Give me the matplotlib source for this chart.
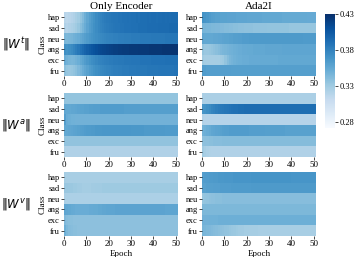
import matplotlib
matplotlib.use("Agg")
import matplotlib.pyplot as plt
import numpy as np

plt.rcParams['font.family'] = ['Liberation Serif', 'DejaVu Serif']
plt.rcParams['mathtext.fontset'] = 'dejavusans'

classes = ['hap', 'sad', 'neu', 'ang', 'exc', 'fru']
epochs = list(range(51))
col_titles = ['Only Encoder', 'Ada2I']
row_labels = [r'$\|W^t\|$', r'$\|W^a\|$', r'$\|W^v\|$']
cbar_ticks = [0.28, 0.33, 0.38, 0.43]

# ||W^t||, Only Encoder
oe_t = [
    [0.318,0.316,0.318,0.320,0.322,0.326,0.330,0.336,0.342,0.350,0.356,0.362,0.366,0.370,0.374,0.377,0.380,0.382,0.384,0.385,0.386,0.387,0.388,0.388,0.389,0.389,0.390,0.390,0.391,0.390,0.391,0.391,0.392,0.391,0.392,0.392,0.392,0.393,0.392,0.393,0.393,0.392,0.393,0.393,0.394,0.393,0.394,0.393,0.394,0.394,0.394],
    [0.322,0.320,0.322,0.324,0.326,0.330,0.334,0.340,0.346,0.352,0.358,0.363,0.367,0.371,0.374,0.377,0.379,0.381,0.383,0.384,0.385,0.386,0.387,0.388,0.388,0.389,0.389,0.390,0.390,0.390,0.391,0.391,0.391,0.392,0.392,0.392,0.392,0.393,0.393,0.393,0.393,0.393,0.394,0.394,0.394,0.394,0.394,0.395,0.395,0.395,0.395],
    [0.345,0.344,0.345,0.346,0.348,0.350,0.352,0.355,0.358,0.361,0.364,0.367,0.369,0.371,0.373,0.375,0.376,0.377,0.378,0.379,0.380,0.380,0.381,0.381,0.382,0.382,0.382,0.383,0.383,0.383,0.384,0.384,0.384,0.384,0.385,0.385,0.385,0.385,0.385,0.386,0.386,0.386,0.386,0.386,0.386,0.387,0.387,0.387,0.387,0.387,0.387],
    [0.372,0.370,0.372,0.375,0.378,0.382,0.386,0.390,0.394,0.398,0.401,0.404,0.407,0.409,0.411,0.413,0.415,0.416,0.417,0.418,0.419,0.420,0.421,0.421,0.422,0.422,0.423,0.423,0.423,0.424,0.424,0.424,0.424,0.425,0.425,0.425,0.425,0.425,0.426,0.426,0.426,0.426,0.426,0.426,0.427,0.427,0.427,0.427,0.427,0.427,0.427],
    [0.352,0.348,0.346,0.345,0.346,0.348,0.351,0.355,0.359,0.363,0.367,0.370,0.373,0.375,0.377,0.379,0.380,0.381,0.382,0.383,0.384,0.384,0.385,0.385,0.386,0.386,0.386,0.387,0.387,0.387,0.388,0.388,0.388,0.388,0.389,0.389,0.389,0.389,0.389,0.390,0.390,0.390,0.390,0.390,0.390,0.391,0.391,0.391,0.391,0.391,0.391],
    [0.338,0.334,0.333,0.334,0.336,0.339,0.343,0.347,0.352,0.356,0.360,0.364,0.367,0.370,0.372,0.374,0.376,0.377,0.378,0.379,0.380,0.381,0.382,0.382,0.383,0.383,0.384,0.384,0.384,0.385,0.385,0.385,0.386,0.386,0.386,0.386,0.386,0.387,0.387,0.387,0.387,0.387,0.388,0.388,0.388,0.388,0.388,0.388,0.388,0.389,0.389],
]

# ||W^t||, Ada2I
ada_t = [
    [0.370,0.368,0.366,0.364,0.362,0.361,0.360,0.360,0.359,0.359,0.359,0.358,0.358,0.358,0.358,0.357,0.357,0.357,0.357,0.357,0.356,0.356,0.356,0.356,0.356,0.356,0.356,0.355,0.355,0.355,0.355,0.355,0.355,0.355,0.355,0.355,0.354,0.354,0.354,0.354,0.354,0.354,0.354,0.354,0.354,0.354,0.354,0.353,0.353,0.353,0.353],
    [0.346,0.346,0.345,0.345,0.344,0.344,0.343,0.343,0.342,0.342,0.341,0.341,0.340,0.340,0.339,0.339,0.338,0.338,0.338,0.337,0.337,0.337,0.337,0.336,0.336,0.336,0.336,0.336,0.336,0.335,0.335,0.335,0.335,0.335,0.335,0.335,0.335,0.335,0.335,0.334,0.334,0.334,0.334,0.334,0.334,0.334,0.334,0.334,0.334,0.334,0.334],
    [0.356,0.355,0.355,0.355,0.355,0.356,0.356,0.357,0.357,0.358,0.359,0.359,0.360,0.360,0.361,0.361,0.362,0.362,0.363,0.363,0.363,0.364,0.364,0.364,0.364,0.364,0.365,0.365,0.365,0.365,0.365,0.365,0.365,0.365,0.365,0.365,0.365,0.365,0.365,0.365,0.365,0.365,0.365,0.365,0.365,0.364,0.364,0.364,0.364,0.364,0.364],
    [0.335,0.333,0.333,0.334,0.335,0.337,0.339,0.341,0.343,0.345,0.346,0.347,0.348,0.349,0.350,0.351,0.352,0.352,0.353,0.353,0.354,0.354,0.354,0.355,0.355,0.355,0.355,0.355,0.356,0.356,0.356,0.356,0.356,0.356,0.356,0.356,0.357,0.357,0.357,0.357,0.357,0.357,0.357,0.357,0.357,0.357,0.357,0.357,0.357,0.357,0.357],
    [0.330,0.328,0.327,0.327,0.327,0.327,0.328,0.328,0.329,0.331,0.336,0.341,0.345,0.347,0.349,0.350,0.351,0.351,0.352,0.352,0.352,0.353,0.353,0.353,0.353,0.353,0.354,0.354,0.354,0.354,0.354,0.354,0.354,0.354,0.355,0.355,0.355,0.355,0.355,0.355,0.355,0.355,0.355,0.355,0.355,0.355,0.355,0.355,0.355,0.355,0.355],
    [0.363,0.363,0.362,0.362,0.362,0.362,0.362,0.362,0.362,0.362,0.362,0.362,0.362,0.361,0.361,0.361,0.361,0.361,0.361,0.361,0.361,0.361,0.361,0.361,0.361,0.361,0.361,0.361,0.361,0.361,0.361,0.361,0.361,0.361,0.361,0.361,0.361,0.361,0.361,0.361,0.361,0.361,0.361,0.361,0.361,0.361,0.361,0.361,0.361,0.361,0.361],
]

# ||W^a||, Only Encoder
oe_a = [
    [0.336,0.335,0.335,0.335,0.335,0.335,0.335,0.335,0.335,0.335,0.335,0.335,0.335,0.335,0.335,0.335,0.335,0.335,0.335,0.335,0.335,0.335,0.335,0.335,0.335,0.335,0.335,0.335,0.335,0.335,0.335,0.335,0.335,0.335,0.335,0.335,0.335,0.335,0.335,0.335,0.335,0.335,0.335,0.335,0.335,0.335,0.335,0.335,0.335,0.335,0.335],
    [0.356,0.355,0.355,0.356,0.356,0.357,0.358,0.359,0.359,0.360,0.360,0.361,0.361,0.362,0.362,0.362,0.363,0.363,0.363,0.363,0.363,0.363,0.363,0.363,0.363,0.363,0.363,0.362,0.362,0.362,0.362,0.362,0.362,0.362,0.361,0.361,0.361,0.361,0.361,0.361,0.361,0.361,0.361,0.361,0.361,0.361,0.361,0.361,0.361,0.361,0.361],
    [0.362,0.352,0.350,0.349,0.349,0.348,0.348,0.348,0.348,0.348,0.348,0.348,0.348,0.348,0.348,0.348,0.348,0.348,0.348,0.348,0.348,0.348,0.348,0.348,0.348,0.348,0.348,0.348,0.348,0.348,0.348,0.348,0.348,0.348,0.348,0.348,0.348,0.348,0.348,0.348,0.348,0.348,0.348,0.348,0.348,0.348,0.348,0.348,0.348,0.348,0.348],
    [0.355,0.355,0.356,0.357,0.358,0.359,0.360,0.361,0.362,0.363,0.364,0.364,0.365,0.365,0.366,0.366,0.366,0.367,0.367,0.367,0.367,0.367,0.367,0.367,0.367,0.367,0.367,0.367,0.367,0.367,0.366,0.366,0.366,0.366,0.366,0.366,0.365,0.365,0.365,0.365,0.365,0.365,0.365,0.365,0.365,0.364,0.364,0.364,0.364,0.364,0.364],
    [0.336,0.336,0.336,0.336,0.336,0.336,0.336,0.336,0.336,0.336,0.336,0.336,0.336,0.336,0.336,0.336,0.336,0.336,0.336,0.336,0.336,0.336,0.336,0.336,0.336,0.336,0.336,0.336,0.336,0.336,0.336,0.336,0.336,0.336,0.336,0.336,0.336,0.336,0.336,0.336,0.336,0.336,0.336,0.336,0.336,0.336,0.336,0.336,0.336,0.336,0.336],
    [0.323,0.322,0.322,0.322,0.322,0.322,0.322,0.322,0.322,0.322,0.322,0.322,0.322,0.322,0.322,0.322,0.322,0.322,0.322,0.322,0.322,0.322,0.322,0.322,0.322,0.322,0.322,0.322,0.322,0.322,0.322,0.322,0.322,0.322,0.322,0.322,0.322,0.322,0.322,0.322,0.322,0.322,0.322,0.322,0.322,0.322,0.322,0.322,0.322,0.322,0.322],
]

# ||W^a||, Ada2I
ada_a = [
    [0.325,0.325,0.325,0.325,0.325,0.325,0.325,0.325,0.325,0.325,0.325,0.325,0.325,0.325,0.325,0.325,0.325,0.325,0.325,0.325,0.325,0.325,0.325,0.325,0.325,0.325,0.325,0.325,0.325,0.325,0.325,0.325,0.325,0.325,0.325,0.325,0.325,0.325,0.325,0.325,0.325,0.325,0.325,0.325,0.325,0.325,0.325,0.325,0.325,0.325,0.325],
    [0.368,0.370,0.372,0.375,0.378,0.380,0.382,0.384,0.385,0.386,0.387,0.388,0.389,0.390,0.391,0.391,0.392,0.392,0.392,0.393,0.393,0.393,0.393,0.393,0.393,0.393,0.393,0.393,0.393,0.393,0.393,0.393,0.393,0.393,0.393,0.392,0.392,0.392,0.392,0.392,0.392,0.392,0.392,0.392,0.392,0.392,0.392,0.392,0.392,0.392,0.392],
    [0.321,0.320,0.320,0.320,0.320,0.320,0.320,0.320,0.320,0.320,0.320,0.320,0.320,0.320,0.320,0.320,0.320,0.320,0.320,0.320,0.320,0.320,0.320,0.320,0.320,0.320,0.320,0.320,0.320,0.320,0.320,0.320,0.320,0.320,0.320,0.320,0.320,0.320,0.320,0.320,0.320,0.320,0.320,0.320,0.320,0.320,0.320,0.320,0.320,0.320,0.320],
    [0.348,0.350,0.352,0.354,0.356,0.357,0.358,0.359,0.360,0.361,0.362,0.362,0.363,0.363,0.363,0.363,0.363,0.363,0.363,0.363,0.363,0.362,0.362,0.362,0.362,0.362,0.362,0.362,0.361,0.361,0.361,0.361,0.361,0.361,0.361,0.361,0.361,0.360,0.360,0.360,0.360,0.360,0.360,0.360,0.360,0.360,0.360,0.360,0.360,0.360,0.360],
    [0.337,0.338,0.338,0.339,0.339,0.340,0.340,0.340,0.340,0.341,0.341,0.341,0.341,0.341,0.341,0.341,0.341,0.341,0.341,0.341,0.341,0.341,0.341,0.341,0.341,0.341,0.341,0.341,0.341,0.341,0.341,0.341,0.341,0.341,0.341,0.341,0.341,0.341,0.341,0.341,0.341,0.341,0.341,0.341,0.341,0.341,0.341,0.341,0.341,0.341,0.341],
    [0.330,0.326,0.324,0.323,0.322,0.322,0.322,0.322,0.322,0.322,0.322,0.322,0.322,0.322,0.322,0.322,0.322,0.322,0.322,0.322,0.322,0.322,0.322,0.322,0.322,0.322,0.322,0.322,0.322,0.322,0.322,0.322,0.322,0.322,0.322,0.322,0.322,0.322,0.322,0.322,0.322,0.322,0.322,0.322,0.322,0.322,0.322,0.322,0.322,0.322,0.322],
]

# ||W^v||, Only Encoder
oe_v = [
    [0.327,0.326,0.326,0.326,0.326,0.326,0.326,0.326,0.326,0.326,0.326,0.326,0.326,0.326,0.326,0.326,0.326,0.326,0.326,0.326,0.326,0.326,0.326,0.326,0.326,0.326,0.326,0.326,0.326,0.326,0.326,0.326,0.326,0.326,0.326,0.326,0.326,0.326,0.326,0.326,0.326,0.326,0.326,0.326,0.326,0.326,0.326,0.326,0.326,0.326,0.326],
    [0.333,0.333,0.332,0.332,0.331,0.331,0.330,0.329,0.328,0.328,0.328,0.328,0.329,0.329,0.330,0.330,0.330,0.331,0.331,0.331,0.331,0.331,0.331,0.331,0.331,0.331,0.331,0.331,0.331,0.331,0.331,0.331,0.331,0.331,0.331,0.331,0.331,0.331,0.331,0.331,0.331,0.331,0.331,0.331,0.331,0.331,0.331,0.331,0.331,0.331,0.331],
    [0.325,0.324,0.324,0.324,0.324,0.324,0.324,0.324,0.324,0.324,0.324,0.324,0.324,0.324,0.324,0.324,0.324,0.324,0.324,0.324,0.324,0.324,0.324,0.324,0.324,0.324,0.324,0.324,0.324,0.324,0.324,0.324,0.324,0.324,0.324,0.324,0.324,0.324,0.324,0.324,0.324,0.324,0.324,0.324,0.324,0.324,0.324,0.324,0.324,0.324,0.324],
    [0.357,0.356,0.355,0.354,0.353,0.352,0.352,0.352,0.352,0.352,0.352,0.353,0.353,0.354,0.354,0.355,0.355,0.356,0.356,0.357,0.357,0.357,0.357,0.358,0.358,0.358,0.358,0.358,0.358,0.358,0.358,0.358,0.358,0.358,0.358,0.358,0.358,0.358,0.358,0.358,0.358,0.358,0.358,0.358,0.358,0.357,0.357,0.357,0.357,0.357,0.357],
    [0.343,0.340,0.339,0.339,0.338,0.338,0.338,0.338,0.338,0.338,0.338,0.338,0.338,0.338,0.338,0.338,0.338,0.338,0.338,0.338,0.338,0.338,0.338,0.338,0.338,0.338,0.338,0.338,0.338,0.338,0.338,0.338,0.338,0.338,0.338,0.338,0.338,0.338,0.338,0.338,0.338,0.338,0.338,0.338,0.338,0.338,0.338,0.338,0.338,0.338,0.338],
    [0.350,0.344,0.341,0.340,0.339,0.339,0.338,0.338,0.338,0.338,0.338,0.338,0.338,0.338,0.338,0.338,0.338,0.338,0.338,0.338,0.338,0.338,0.338,0.338,0.338,0.338,0.338,0.338,0.338,0.338,0.338,0.338,0.338,0.338,0.338,0.338,0.338,0.338,0.338,0.338,0.338,0.338,0.338,0.338,0.338,0.338,0.338,0.338,0.338,0.338,0.338],
]

# ||W^v||, Ada2I
ada_v = [
    [0.362,0.363,0.363,0.364,0.364,0.365,0.365,0.366,0.366,0.366,0.367,0.367,0.367,0.367,0.368,0.368,0.368,0.368,0.368,0.368,0.368,0.368,0.369,0.369,0.369,0.369,0.369,0.369,0.369,0.369,0.369,0.369,0.369,0.369,0.369,0.369,0.369,0.369,0.369,0.369,0.368,0.368,0.368,0.368,0.368,0.368,0.368,0.368,0.368,0.368,0.368],
    [0.360,0.360,0.361,0.361,0.361,0.362,0.362,0.362,0.363,0.363,0.363,0.363,0.363,0.364,0.364,0.364,0.364,0.364,0.364,0.364,0.364,0.364,0.365,0.365,0.365,0.365,0.365,0.365,0.365,0.365,0.365,0.365,0.365,0.365,0.365,0.365,0.365,0.365,0.365,0.365,0.365,0.365,0.365,0.365,0.365,0.365,0.365,0.365,0.365,0.365,0.365],
    [0.334,0.335,0.336,0.337,0.338,0.338,0.339,0.339,0.339,0.340,0.340,0.340,0.340,0.340,0.340,0.340,0.340,0.340,0.340,0.340,0.340,0.340,0.340,0.340,0.340,0.340,0.340,0.340,0.340,0.340,0.340,0.340,0.340,0.340,0.340,0.340,0.340,0.340,0.340,0.340,0.340,0.340,0.340,0.340,0.340,0.340,0.340,0.340,0.340,0.340,0.340],
    [0.344,0.344,0.344,0.344,0.344,0.344,0.344,0.344,0.344,0.344,0.344,0.344,0.344,0.344,0.344,0.344,0.344,0.344,0.344,0.344,0.344,0.344,0.344,0.344,0.344,0.344,0.344,0.344,0.344,0.344,0.344,0.344,0.344,0.344,0.344,0.344,0.344,0.344,0.344,0.344,0.344,0.344,0.344,0.344,0.344,0.344,0.344,0.344,0.344,0.344,0.344],
    [0.348,0.348,0.348,0.349,0.349,0.349,0.349,0.350,0.350,0.350,0.350,0.350,0.350,0.350,0.350,0.350,0.350,0.350,0.350,0.350,0.350,0.350,0.350,0.350,0.350,0.350,0.350,0.350,0.350,0.350,0.350,0.350,0.350,0.350,0.350,0.350,0.350,0.350,0.350,0.350,0.350,0.350,0.350,0.350,0.350,0.350,0.350,0.350,0.350,0.350,0.350],
    [0.346,0.345,0.344,0.343,0.342,0.341,0.340,0.339,0.338,0.337,0.336,0.335,0.334,0.333,0.332,0.331,0.330,0.329,0.329,0.328,0.328,0.327,0.327,0.327,0.327,0.326,0.326,0.326,0.326,0.326,0.326,0.326,0.326,0.326,0.326,0.326,0.326,0.326,0.326,0.326,0.326,0.326,0.326,0.326,0.326,0.326,0.326,0.326,0.326,0.326,0.326],
]

panels = [[oe_t, ada_t], [oe_a, ada_a], [oe_v, ada_v]]

vmin, vmax = 0.272, 0.43
fig = plt.figure(figsize=(3.57, 2.57), dpi=100)

W, H = 357, 257
lefts = [64, 202]
tops = [12, 93, 172]
pw, ph = 114, 64

im = None
for r in range(3):
    for c in range(2):
        ax = fig.add_axes([lefts[c] / W, 1 - (tops[r] + ph) / H, pw / W, ph / H])
        data = np.array(panels[r][c])
        im = ax.imshow(data, cmap='Blues', vmin=vmin, vmax=vmax, aspect='auto',
                       interpolation='nearest', extent=(0, len(epochs), len(classes), 0))
        ax.set_yticks(np.arange(len(classes)) + 0.5)
        ax.set_yticklabels(classes, fontsize=6)
        ax.set_xticks(epochs[::10])
        ax.set_xticklabels([str(e) for e in epochs[::10]], fontsize=6.5)
        ax.tick_params(length=2, width=0.5, pad=1)
        for s in ax.spines.values():
            s.set_visible(False)
        if c == 0:
            ax.set_ylabel('Class', fontsize=6.5, labelpad=1)
            fig.text(16 / W, 1 - (tops[r] + ph / 2) / H, row_labels[r],
                     fontsize=8.5, ha='center', va='center')
        if r == 0:
            ax.set_title(col_titles[c], fontsize=8, pad=2)
        if r == 2:
            ax.set_xlabel('Epoch', fontsize=6.5, labelpad=1)

cax = fig.add_axes([325 / W, 1 - 128 / H, 10 / W, 114 / H])
cb = fig.colorbar(im, cax=cax, ticks=cbar_ticks)
cb.ax.set_yticklabels([f'{t:.2f}' for t in cbar_ticks], fontsize=6)
cb.ax.tick_params(length=2, width=0.5, pad=1)
cb.outline.set_visible(False)

fig.savefig('out.png', dpi=100)
